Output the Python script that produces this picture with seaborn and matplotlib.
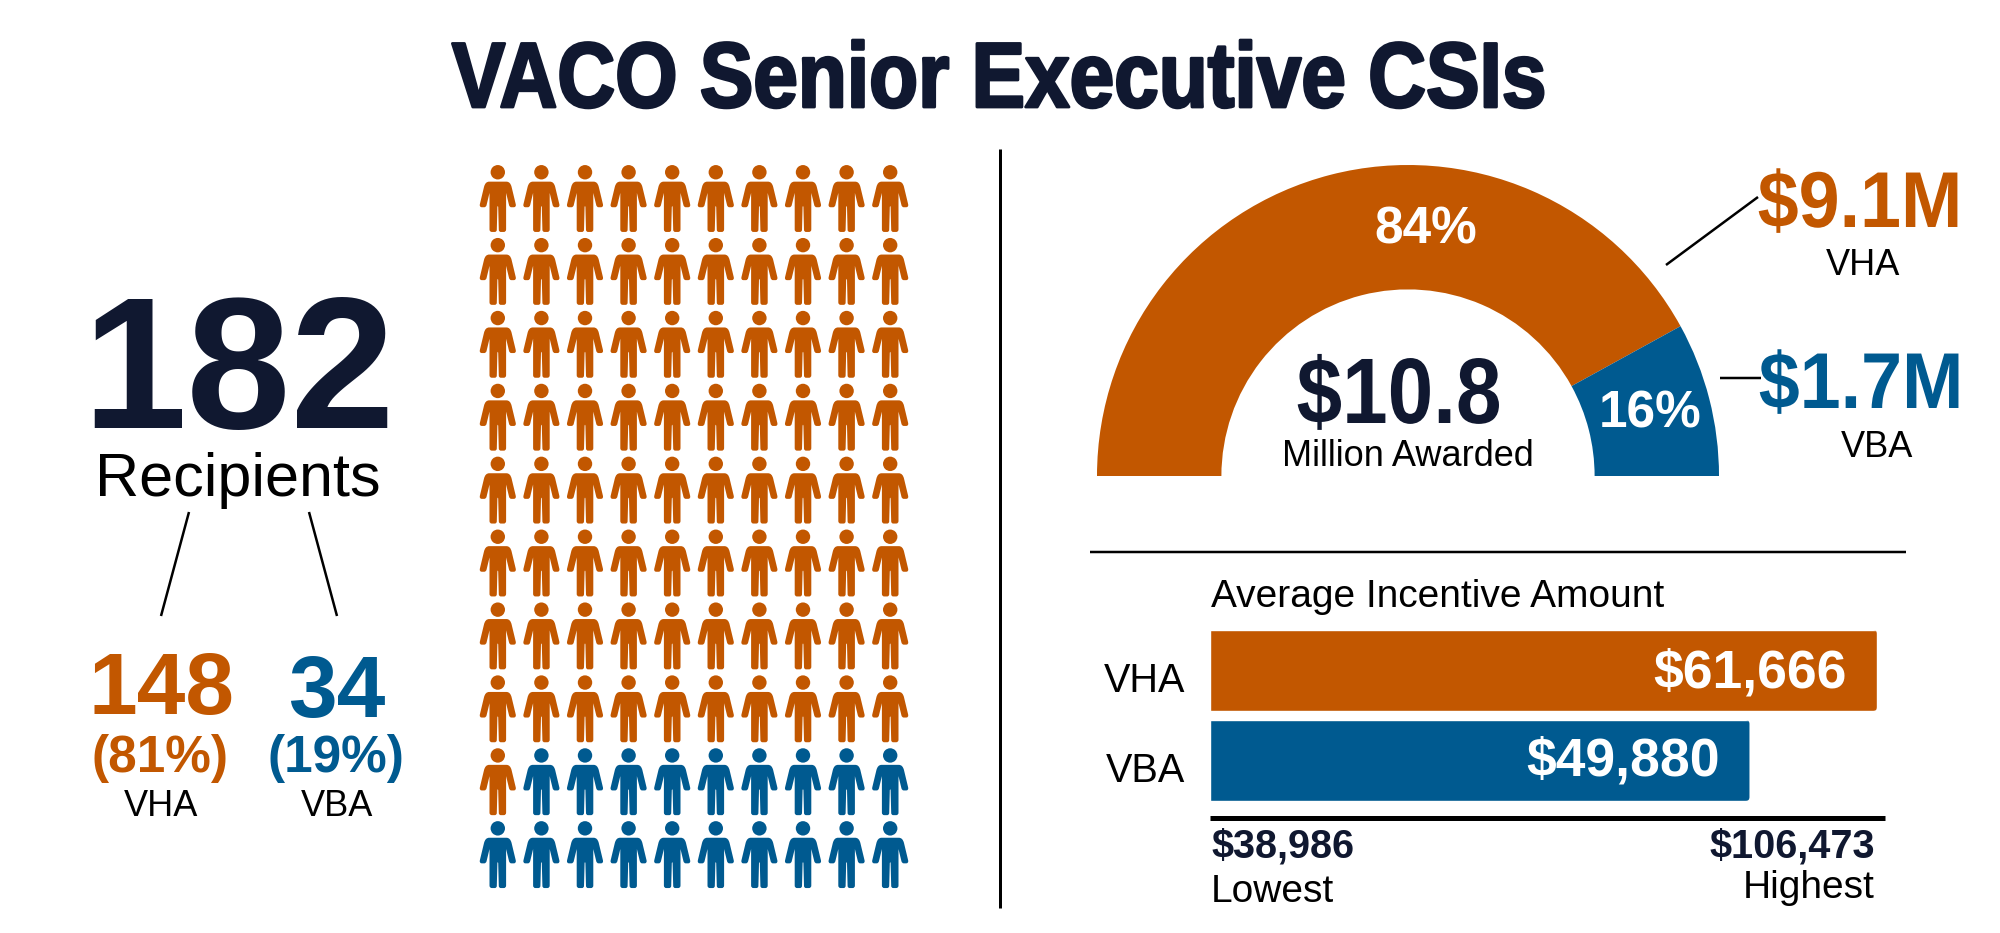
import matplotlib
matplotlib.use("Agg")
import matplotlib.patheffects as pe
import matplotlib.pyplot as plt
import numpy as np
import pandas as pd
import seaborn as sns
from matplotlib.patches import FancyBboxPatch
from matplotlib.path import Path
from matplotlib.transforms import Affine2D, IdentityTransform

# chart values
title = "VACO Senior Executive CSIs"
total_recipients = 182
groups = ["VHA", "VBA"]
recipients = [148, 34]
recipient_shares = [81, 19]
person_counts = [81, 19]
awarded_total = "$10.8"
awarded_shares = [84, 16]
awarded_labels = ["$9.1M", "$1.7M"]
average_incentive = [61666, 49880]
lowest_incentive = 38986
highest_incentive = 106473

ORANGE = "#C25700"
BLUE = "#005A90"
NAVY = "#101830"

W, H = 2000, 933
sns.set_theme(style="white")
plt.rcParams["font.family"] = ["Liberation Sans", "DejaVu Sans"]

fig = plt.figure(figsize=(W / 100, H / 100), dpi=100, facecolor="white")


def px_axes(left, top, right, bottom):
    ax = fig.add_axes([left / W, 1 - bottom / H, (right - left) / W, (bottom - top) / H])
    ax.set_axis_off()
    return ax


class Squeeze(pe.AbstractPathEffect):
    # no condensed font is installed, so narrow the glyphs around x0
    def __init__(self, factor, x0, stroke=0):
        super().__init__()
        self.narrow = Affine2D().translate(-x0, 0).scale(factor, 1).translate(x0, 0)
        self.stroke = stroke

    def draw_path(self, renderer, gc, tpath, affine, rgbFace=None):
        gc0 = renderer.new_gc()
        gc0.copy_properties(gc)
        if self.stroke:
            gc0.set_linewidth(self.stroke)
            gc0.set_foreground(rgbFace)
        renderer.draw_path(gc0, tpath, affine + self.narrow, rgbFace)
        gc0.restore()


def person_marker():
    # left half of the body, measured off the icon, mirrored below
    half = [
        ((0, 16.7), Path.MOVETO), ((-8.7, 16.7), Path.LINETO),
        ((-12.5, 16.7), Path.CURVE3), ((-13.8, 22), Path.CURVE3),
        ((-18, 39.5), Path.LINETO),
        ((-18.5, 42.5), Path.CURVE3), ((-15.5, 42.3), Path.CURVE3),
        ((-13.5, 42.3), Path.LINETO),
        ((-11.7, 42.3), Path.CURVE3), ((-11.2, 40), Path.CURVE3),
        ((-8.3, 28), Path.LINETO), ((-8.3, 64.5), Path.LINETO),
        ((-8.3, 67), Path.CURVE3), ((-6, 67), Path.CURVE3),
        ((-3, 67), Path.LINETO),
        ((-1.2, 67), Path.CURVE3), ((-1, 65), Path.CURVE3),
        ((-0.4, 42), Path.LINETO), ((0, 41), Path.LINETO),
    ]
    left = [p for p, _ in half]
    codes = [c for _, c in half]
    right = [(-x, y) for x, y in reversed(left[:-1])]
    right_codes = list(reversed(codes[1:]))
    verts = np.array(left + right + [left[0]], dtype=float)
    body = Path(verts, codes + right_codes + [Path.CLOSEPOLY])
    head = Path.circle((0, 7.3), 7.2)
    person = Path.make_compound_path(body, head)
    # centre on the icon and flip, marker space has y going up
    return person.transformed(Affine2D().translate(0, -33.5).scale(1, -1))


# pictogram: one icon per percent of recipients
units = np.repeat(groups, person_counts)
rows, cols = np.divmod(np.arange(len(units)), 10)
people = pd.DataFrame({"col": cols, "row": rows, "group": units})

ax_people = px_axes(476, 162, 912, 891)
sns.scatterplot(
    data=people, x="col", y="row", hue="group", hue_order=groups,
    palette=[ORANGE, BLUE], marker=person_marker(), s=2327, linewidth=0,
    legend=False, ax=ax_people,
)
ax_people.set_xlim(-0.5, 9.5)
ax_people.set_ylim(9.5, -0.5)
ax_people.set_axis_off()

# half donut of the awarded money, the lower half of the pie is left empty
ax_gauge = px_axes(1097, 165, 1719, 787)
ax_gauge.pie(
    awarded_shares + [sum(awarded_shares)],
    colors=[ORANGE, BLUE, "none"],
    startangle=180, counterclock=False, radius=1,
    wedgeprops={"width": 0.4, "linewidth": 0},
)
ax_gauge.set_xlim(-1, 1)
ax_gauge.set_ylim(-1, 1)

# average incentive bars
ax_bars = px_axes(1210, 625.5, 1885, 805.5)
sns.barplot(
    x=average_incentive, y=groups, hue=groups, palette=[ORANGE, BLUE],
    saturation=1, width=0.9, legend=False, ax=ax_bars,
)
ax_bars.set_xlim(0, average_incentive[0] * 675 / 667)
ax_bars.set_ylim(1.5, -0.5)
ax_bars.set_axis_off()
for bar in ax_bars.patches:
    # only the right corners are rounded
    box = bar.get_window_extent(fig.canvas.get_renderer())
    corners = FancyBboxPatch(
        (box.x0 - 10, box.y0), box.width + 10, box.height,
        boxstyle="round,pad=0,rounding_size=4", transform=IdentityTransform(),
    )
    bar.set_clip_path(corners)

# overlay in image pixels for text and rules
ov = px_axes(0, 0, W, H)
ov.set_xlim(0, W)
ov.set_ylim(H, 0)
ov.patch.set_alpha(0)


def put(x, y, text, size, color="black", weight="normal", ha="center", narrow=None, stroke=0):
    t = ov.text(x, y, text, fontsize=size, color=color, fontweight=weight,
                ha=ha, va="baseline")
    if narrow:
        t.set_path_effects([Squeeze(narrow, x, stroke)])


def rule(x0, y0, x1, y1, width=2.5):
    ov.plot([x0, x1], [y0, y1], color="black", lw=width * 0.72, solid_capstyle="butt")


put(999, 107, title, 66.5, NAVY, "bold", narrow=0.868, stroke=2)

put(239, 428, str(total_recipients), 135, NAVY, "bold")
put(238, 496, "Recipients", 44)
rule(189, 512, 161, 616)
rule(309, 512, 337, 616)
put(162, 714, str(recipients[0]), 63, ORANGE, "bold")
put(337, 717, str(recipients[1]), 63, BLUE, "bold")
put(160, 772, f"({recipient_shares[0]}%)", 37, ORANGE, "bold")
put(336, 772, f"({recipient_shares[1]}%)", 37, BLUE, "bold")
put(161, 816, groups[0], 26)
put(337, 816, groups[1], 26)

rule(999.5, 149, 999.5, 908, width=3)

put(1426, 244, f"{awarded_shares[0]}%", 37, "white", "bold")
put(1650, 427, f"{awarded_shares[1]}%", 37, "white", "bold")
put(1399, 423, awarded_total, 67, NAVY, "bold", narrow=0.88)
put(1408, 466, "Million Awarded", 26)
rule(1758, 197, 1666, 265)
rule(1720, 378, 1761, 378)
put(1860, 227, awarded_labels[0], 57, ORANGE, "bold", narrow=0.93)
put(1861, 408, awarded_labels[1], 57, BLUE, "bold", narrow=0.93)
put(1863, 275, groups[0], 26)
put(1877, 457, groups[1], 26)

rule(1090, 552, 1906, 552)
put(1211, 607, "Average Incentive Amount", 28, ha="left")
put(1185, 692, groups[0], 28.5, ha="right")
put(1185, 782, groups[1], 28.5, ha="right")
put(1847, 687, f"${average_incentive[0]:,}", 38.5, "white", "bold", ha="right")
put(1720, 775, f"${average_incentive[1]:,}", 38.5, "white", "bold", ha="right")
rule(1210, 818, 1885, 818, width=5)
put(1211, 857, f"${lowest_incentive:,}", 28.5, NAVY, "bold", ha="left")
put(1875, 857, f"${highest_incentive:,}", 28.5, NAVY, "bold", ha="right")
put(1211, 902, "Lowest", 28, ha="left")
put(1875, 898, "Highest", 28, ha="right")

fig.savefig("out.png", dpi=100, facecolor="white")
